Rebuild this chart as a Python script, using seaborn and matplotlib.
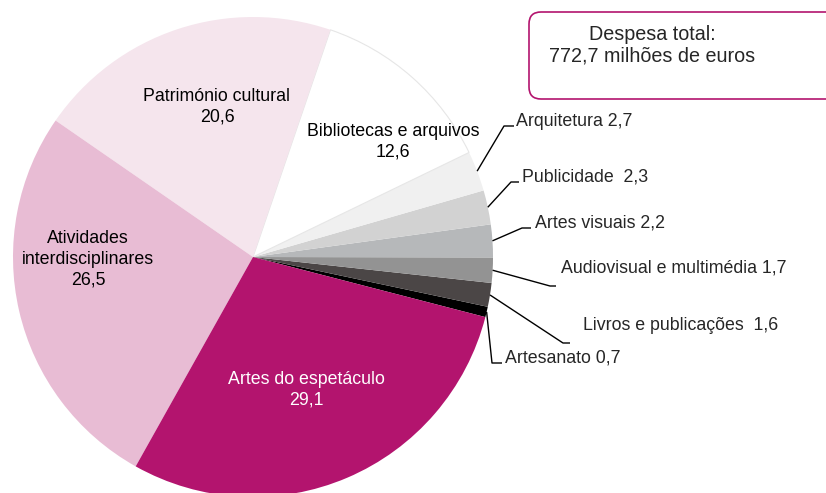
import matplotlib
matplotlib.use("Agg")
import numpy as np
import seaborn as sns
import matplotlib.pyplot as plt
from matplotlib.patches import FancyBboxPatch

# data (%), counterclockwise from the black slice
categories = ["Artesanato", "Livros e publicações", "Audiovisual e multimédia",
              "Artes visuais", "Publicidade", "Arquitetura",
              "Bibliotecas e arquivos", "Património cultural",
              "Atividades\ninterdisciplinares", "Artes do espetáculo"]
values = [0.7, 1.6, 1.7, 2.2, 2.3, 2.7, 12.6, 20.6, 26.5, 29.1]
value_labels = ["0,7", "1,6", "1,7", "2,2", "2,3", "2,7", "12,6", "20,6", "26,5", "29,1"]
colors = ["#000000", "#4B4646", "#939393", "#B6B8BA", "#D2D2D2", "#F0F0F0",
          "#FFFFFF", "#F5E5ED", "#E8BCD4", "#B3146E"]
total_text = "Despesa total:\n772,7 milhões de euros"

sns.set_style("white")
plt.rcParams["font.family"] = ["Liberation Sans", "DejaVu Sans"]

W, H = 826, 493
CX, CY, R = 253, 257, 240


def px(x, y):
    return (x - CX) / R, (CY - y) / R


fig = plt.figure(figsize=(W / 100, H / 100), dpi=100)
ax = fig.add_axes([0, 0, 1, 1])
wedges, _ = ax.pie(values, colors=colors, startangle=-14.5, counterclock=True,
                   radius=1, wedgeprops=dict(linewidth=0))
wedges[6].set_edgecolor("#E6E6E6")
wedges[6].set_linewidth(0.8)
ax.set_xlim(-CX / R, (W - CX) / R)
ax.set_ylim(-(H - CY) / R, CY / R)
ax.set_aspect("equal")
ax.axis("off")

fs = 12.8

# labels inside the pie
inside = {6: (393, 142, "black"), 7: (217, 107, "black"),
          8: (88, 259, "black"), 9: (306, 390, "white")}
for i, (x, y, c) in inside.items():
    tx, ty = px(x, y)
    ax.text(tx, ty, f"{categories[i]}\n{value_labels[i]}", ha="center", va="center",
            fontsize=fs, color=c, linespacing=1.27)

# small slices with leader lines: elbow, end of line, text anchor
outside = {5: ((504, 126), (514, 126), (516, 122), " "),
           4: ((511, 182), (519, 182), (522, 177), "  "),
           3: ((522, 228), (531, 228), (535, 223), " "),
           2: ((550, 286), (556, 286), (561, 268), " "),
           1: ((563, 343), (570, 343), (583, 326), "  "),
           0: ((492, 363), (502, 363), (505, 358), " ")}
for i, (elbow, end, txt, sep) in outside.items():
    w = wedges[i]
    mid = np.deg2rad((w.theta1 + w.theta2) / 2)
    sx, sy = np.cos(mid), np.sin(mid)
    ex, ey = px(*elbow)
    fx, fy = px(*end)
    ax.plot([sx, ex, fx], [sy, ey, fy], color="black", lw=1.0, solid_capstyle="butt")
    tx, ty = px(*txt)
    ax.text(tx, ty, f"{categories[i]}{sep}{value_labels[i]}", ha="left", va="center",
            fontsize=fs)

# total box
bx0, by0 = px(529, 99)
bx1, by1 = px(850, 12)
box = FancyBboxPatch((bx0, by0), bx1 - bx0, by1 - by0,
                     boxstyle="round,pad=0,rounding_size=0.05",
                     facecolor="white", edgecolor="#B3146E", lw=1.2, clip_on=False)
ax.add_patch(box)
tx, ty = px(652, 45)
ax.text(tx, ty, total_text, ha="center", va="center", fontsize=14.2, linespacing=1.2)

plt.savefig("out.png", dpi=100)
